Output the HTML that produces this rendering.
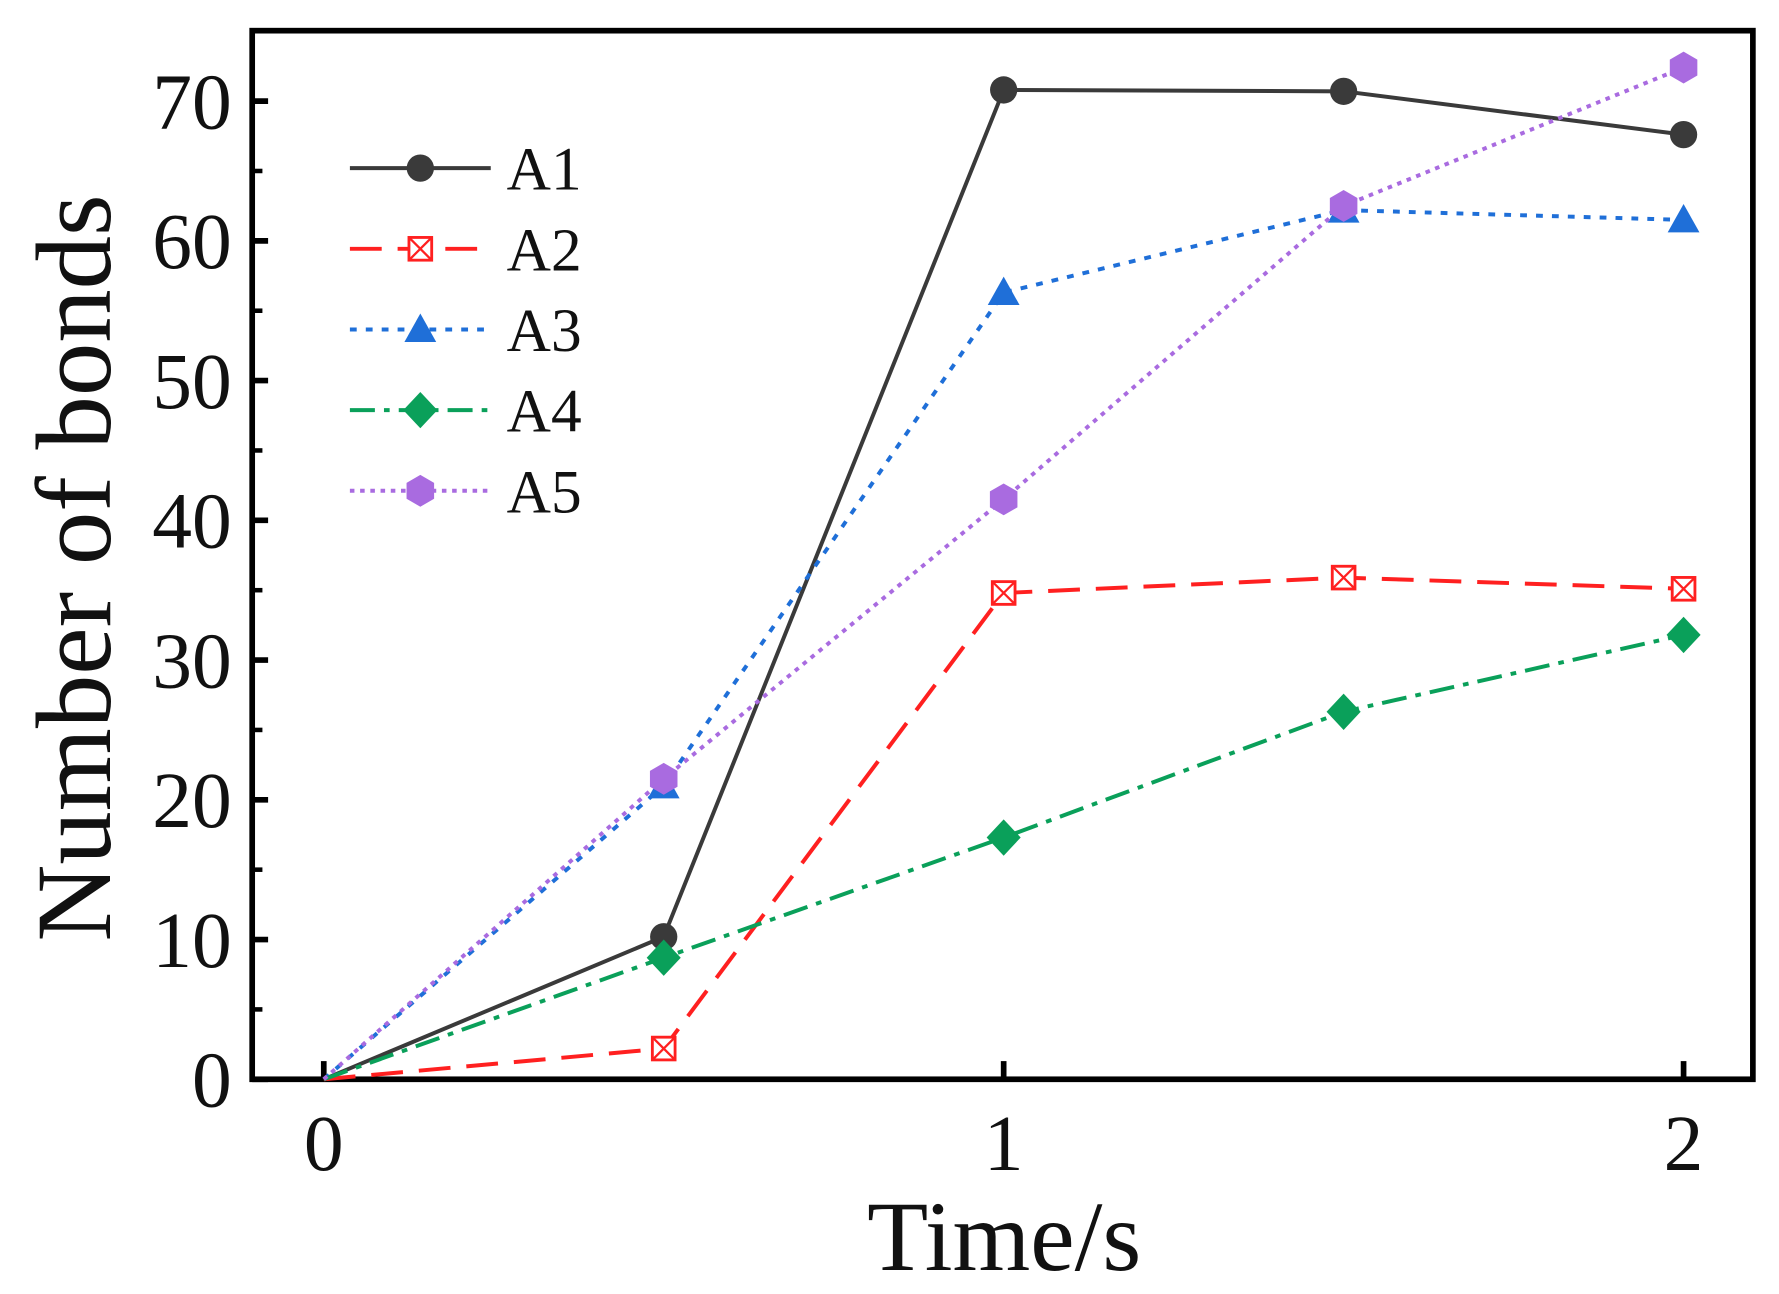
<!DOCTYPE html>
<html><head><meta charset="utf-8"><style>
html,body{margin:0;padding:0;background:#fff;}
svg{display:block;}
text{font-family:"Liberation Serif",serif;fill:#111;}
</style></head><body>
<svg id="chart" width="1779" height="1294" viewBox="0 0 1566 1139" preserveAspectRatio="none" xmlns="http://www.w3.org/2000/svg">
<rect x="222" y="27" width="1321" height="923" fill="none" stroke="#000" stroke-width="5"/>
<g id="axes"></g>
<g id="series"></g>
<g id="legend"></g>
<text transform="translate(97,500) rotate(-90)" text-anchor="middle" font-size="94">Number of bonds</text>
<text x="884" y="1118" text-anchor="middle" font-size="88">Time/s</text>
</svg>
<script>
const times=[0,0.5,1,1.5,2];
const a1=[0,10.2,70.8,70.7,67.6];
const a2=[0,2.2,34.8,35.9,35.1];
const a3=[0,21,56.3,62.2,61.5];
const a4=[0,8.7,17.3,26.3,31.8];
const a5=[0,21.5,41.5,62.5,72.4];
const xTicks=[0,1,2];
const yTicks=[0,10,20,30,40,50,60,70];
const seriesNames=["A1","A2","A3","A4","A5"];

const NS="http://www.w3.org/2000/svg";
const xs=v=>285+v*598.5;
const ys=v=>950-v*12.3;
function mk(tag,attrs,parent){const e=document.createElementNS(NS,tag);for(const k in attrs)e.setAttribute(k,attrs[k]);parent.appendChild(e);return e;}
const axes=document.getElementById('axes');
yTicks.forEach(t=>{
  const l=mk('line',{x1:222,x2:236,y1:ys(t),y2:ys(t),stroke:'#000','stroke-width':5},axes);
  
  
  const tx=mk('text',{x:204,y:ys(t)+24,'text-anchor':'end','font-size':70},axes);
  tx.textContent=t;
  
  
  if(t<70){
    const m=mk('line',{x1:222,x2:231,y1:ys(t+5),y2:ys(t+5),stroke:'#000','stroke-width':4},axes);
    
    
  }
});
xTicks.forEach(t=>{
  const l=mk('line',{x1:xs(t),x2:xs(t),y1:950,y2:934,stroke:'#000','stroke-width':5},axes);
  
  
  const tx=mk('text',{x:xs(t),y:1030,'text-anchor':'middle','font-size':70},axes);
  tx.textContent=t;
  
  
});
const styles=[
 {c:'#3a3a3a',d:'',m:'circle'},
 {c:'#ff2020',d:'28 14',m:'xsquare'},
 {c:'#1f6fd8',d:'6 8',m:'tri'},
 {c:'#0aa05a',d:'22 8 5 8',m:'diamond'},
 {c:'#a96be0',d:'4 5',m:'hex'}];
function marker(g,type,x,y,c){
  let e;
  if(type==='circle')e=mk('circle',{cx:x,cy:y,r:12,fill:c},g);
  else if(type==='xsquare'){e=mk('g',{},g);mk('rect',{x:x-10,y:y-10,width:20,height:20,fill:'#fff',stroke:c,'stroke-width':2.5},e);mk('path',{d:`M${x-10} ${y-10}L${x+10} ${y+10}M${x+10} ${y-10}L${x-10} ${y+10}`,stroke:c,'stroke-width':2},e);}
  else if(type==='tri')e=mk('polygon',{points:`${x},${y-14} ${x+14},${y+11} ${x-14},${y+11}`,fill:c},g);
  else if(type==='diamond')e=mk('polygon',{points:`${x},${y-16} ${x+15},${y} ${x},${y+16} ${x-15},${y}`,fill:c},g);
  else {let p=[];for(let i=0;i<6;i++){const a=Math.PI/6+i*Math.PI/3;p.push((x+14*Math.cos(a))+','+(y+14*Math.sin(a)));}e=mk('polygon',{points:p.join(' '),fill:c},g);}
  return e;
}
const sg=document.getElementById('series');
[a1,a2,a3,a4,a5].forEach((arr,i)=>{
  const s=styles[i];
  const g=mk('g',{},sg);
  
  
  const pl=mk('polyline',{points:arr.map((v,j)=>xs(times[j])+','+ys(v)).join(' '),fill:'none',stroke:s.c,'stroke-width':3.5,'stroke-dasharray':s.d},g);
  
  
  arr.forEach((v,j)=>{if(j===0)return;const m=marker(g,s.m,xs(times[j]),ys(v),s.c);
    
    });
});
const lg=document.getElementById('legend');
seriesNames.forEach((n,i)=>{
  const s=styles[i];const y=148+i*71;
  const g=mk('g',{},lg);
  
  
  mk('line',{x1:308,x2:432,y1:y,y2:y,stroke:s.c,'stroke-width':3.5,'stroke-dasharray':s.d},g);
  marker(g,s.m,370,y,s.c);
  const t=mk('text',{x:446,y:y+19,'font-size':54},g);
  t.textContent=n;
});
</script>
</body></html>
